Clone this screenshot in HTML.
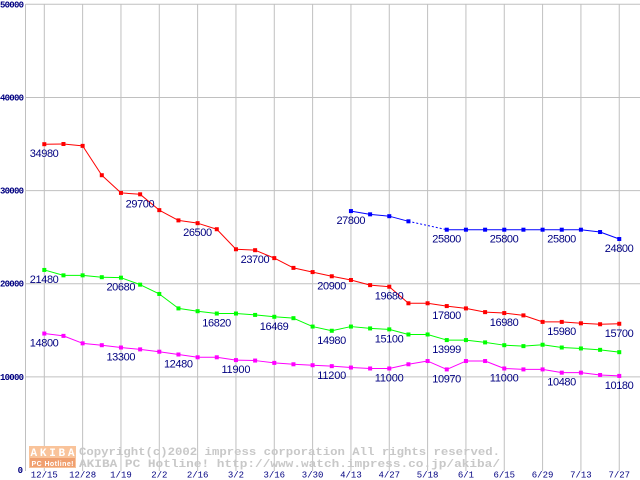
<!DOCTYPE html>
<html><head><meta charset="utf-8"><style>
html,body{margin:0;padding:0;background:#fff;}
svg{display:block;}
</style></head><body>
<svg id="chart" width="640" height="480" xmlns="http://www.w3.org/2000/svg">
<g id="grid"></g>
<g id="axes"></g>
<g id="watermark">
  <rect x="29" y="446" width="47" height="22" fill="#f9c39a"/>
  <rect x="30" y="458" width="45" height="9" fill="#f0a070"/>
  <text x="52.5" y="456" text-anchor="middle" font-family="Liberation Mono, monospace" font-weight="bold" font-size="11" fill="#fff" textLength="44">AKIBA</text>
  <text x="52.5" y="466" text-anchor="middle" font-family="Liberation Sans, sans-serif" font-weight="bold" font-size="7" fill="#fff" textLength="42">PC Hotline!</text>
  <text x="79" y="455" font-family="Liberation Mono, monospace" font-weight="bold" font-size="11" fill="#c8c8c8" textLength="421" lengthAdjust="spacingAndGlyphs">Copyright(c)2002 impress corporation All rights reserved.</text>
  <text x="79" y="467" font-family="Liberation Mono, monospace" font-weight="bold" font-size="11" fill="#c8c8c8" textLength="421" lengthAdjust="spacingAndGlyphs">AKIBA PC Hotline!  http://www.watch.impress.co.jp/akiba/</text>
</g>
<g id="series"></g>
<g id="labels"></g>
</svg>
<script>
const dates = ["12/15","12/28","1/19","2/2","2/16","3/2","3/16","3/30","4/13","4/27","5/18","6/1","6/15","6/29","7/13","7/27"];
const yTicks = [0,10000,20000,30000,40000,50000];
const redValues = [34980,35000,34800,31650,29750,29600,27900,26800,26500,25850,23700,23600,22750,21700,21250,20800,20400,19850,19680,17900,17900,17600,17350,16950,16850,16600,15900,15900,15750,15650,15700];
const greenValues = [21480,20900,20900,20700,20650,19900,18900,17350,17050,16800,16800,16650,16450,16300,15400,14950,15400,15200,15100,14550,14550,13950,13950,13700,13400,13300,13450,13150,13050,12900,12650];
const magentaValues = [14650,14400,13600,13400,13150,12950,12700,12400,12100,12100,11800,11750,11500,11350,11250,11150,11000,10900,10900,11350,11700,10800,11700,11700,10900,10800,10800,10450,10450,10200,10100];
const blueValues = [null,null,null,null,null,null,null,null,null,null,null,null,null,null,null,null,27800,27450,27250,26700,null,25800,25800,25800,25800,25800,25800,25800,25800,25550,24800];
const redLabels = [[0,"34980"],[5,"29700"],[8,"26500"],[11,"23700"],[15,"20900"],[18,"19680"],[21,"17800"],[24,"16980"],[27,"15980"],[30,"15700"]];
const greenLabels = [[0,"21480"],[4,"20680"],[9,"16820"],[12,"16469"],[15,"14980"],[18,"15100"],[21,"13999"]];
const magentaLabels = [[0,"14800"],[4,"13300"],[7,"12480"],[10,"11900"],[15,"11200"],[18,"11000"],[21,"10970"],[24,"11000"],[27,"10480"],[30,"10180"]];
const blueLabels = [[16,"27800"],[21,"25800"],[24,"25800"],[27,"25800"],[30,"24800"]];

const NS="http://www.w3.org/2000/svg";
const x0=44.3, step=38.33/2;
function xScale(i){return x0+i*step;}
function yScale(v){return 470-(v/50000)*465.7;}
function mk(tag,attrs,parent){const e=document.createElementNS(NS,tag);for(const k in attrs)e.setAttribute(k,attrs[k]);parent.appendChild(e);return e;}
const grid=document.getElementById('grid'), axes=document.getElementById('axes');
yTicks.forEach(v=>{
  const y=yScale(v);
  if(v>0){const l=mk('line',{x1:25.5,x2:640,y1:y,y2:y,stroke:'#c0c0c0','stroke-width':1},grid);
  
  }
  const t=mk('text',{x:v===0?23:0,y:y+3,'font-family':'Liberation Mono, monospace','font-weight':'bold','font-size':9,fill:'#000080','text-anchor':v===0?'end':'start'},axes);
  if(v>0){t.setAttribute('textLength',24);}
  t.textContent=String(v);
  
  
});
const la=mk('line',{x1:25.5,x2:25.5,y1:4,y2:471,stroke:'#c0c0c0','stroke-width':1},grid);


dates.forEach((d,i)=>{
  const x=xScale(i*2);
  const l=mk('line',{x1:x,x2:x,y1:4,y2:471,stroke:'#c0c0c0','stroke-width':1},grid);
  
  
  const t=mk('text',{x:x,y:477.5,'font-family':'Liberation Mono, monospace','font-size':9,fill:'#000080','text-anchor':'middle'},axes);
  t.textContent=d;
  
  
});
const sg=document.getElementById('series'), lg=document.getElementById('labels');
function drawSeries(vals,color,name){
  const g=mk('g',{},sg);
  
  
  let prev=-1;
  for(let i=0;i<vals.length;i++){
    if(vals[i]==null)continue;
    if(prev>=0){
      const l=mk('line',{x1:xScale(prev),y1:yScale(vals[prev]),x2:xScale(i),y2:yScale(vals[i]),stroke:color,'stroke-width':1},g);
      if(i-prev>1)l.setAttribute('stroke-dasharray','2,2');
      
      
    }
    const r=mk('rect',{x:xScale(i)-2,y:yScale(vals[i])-2,width:4,height:4,fill:color},g);
    
    
    prev=i;
  }
}
function drawLabels(vals,labels,name){
  labels.forEach(([i,txt])=>{
    const t=mk('text',{x:xScale(i),y:yScale(vals[i])+13,'font-family':'Liberation Sans, sans-serif','font-size':11,fill:'#000080','text-anchor':'middle'},lg);
    t.setAttribute('textLength',29);
    t.textContent=txt;
    
    
  });
}
drawSeries(redValues,'#ff0000','red');
drawSeries(greenValues,'#00ff00','green');
drawSeries(magentaValues,'#ff00ff','magenta');
drawSeries(blueValues,'#0000ff','blue');
drawLabels(redValues,redLabels,'red');
drawLabels(greenValues,greenLabels,'green');
drawLabels(magentaValues,magentaLabels,'magenta');
drawLabels(blueValues,blueLabels,'blue');
</script>
</body></html>
